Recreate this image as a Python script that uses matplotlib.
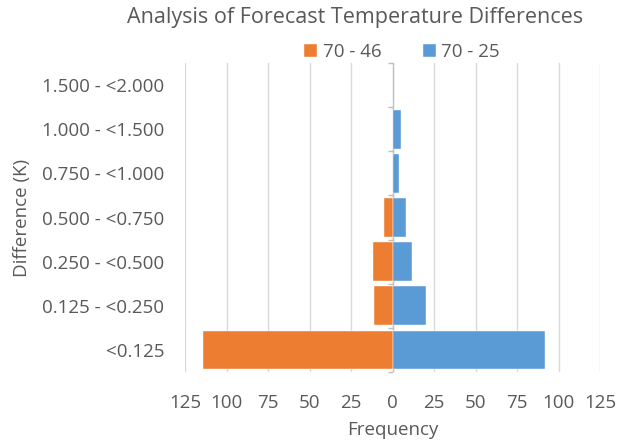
import matplotlib
matplotlib.use("Agg")
import matplotlib.pyplot as plt
import numpy as np

plt.rcParams['font.family'] = ['Open Sans', 'DejaVu Sans']

categories = ["<0.125", "0.125 - <0.250", "0.250 - <0.500", "0.500 - <0.750",
              "0.750 - <1.000", "1.000 - <1.500", "1.500 - <2.000"]
series_70_46 = [114, 11, 12, 5, 0, 0, 0]
series_70_25 = [92, 20, 12, 8, 4, 5, 1]
x_ticks = [-125, -100, -75, -50, -25, 0, 25, 50, 75, 100, 125]
x_tick_labels = ["125", "100", "75", "50", "25", "0", "25", "50", "75", "100", "125"]

ORANGE = "#ED7D31"
BLUE = "#5B9BD5"
TEXT = "#595959"
GRID = "#D9D9D9"

fig = plt.figure(figsize=(6.25, 4.4), dpi=100)
ax = fig.add_axes([185 / 625, 1 - 372 / 440, 415 / 625, 309 / 440])

y = np.arange(len(categories))

# category axis line through zero with boundary tick marks
ax.axvline(0, color="#BFBFBF", linewidth=1, zorder=2)
bounds = np.arange(len(categories) + 1) - 0.5
ax.hlines(bounds, -3, 0, color="#BFBFBF", linewidth=1, zorder=2, clip_on=False)

ax.barh(y, -np.array(series_70_46), height=0.88, color=ORANGE,
        edgecolor="white", linewidth=0.3, label="70 - 46", zorder=3)
ax.barh(y, series_70_25, height=0.88, color=BLUE,
        edgecolor="white", linewidth=0.3, label="70 - 25", zorder=3)

ax.set_xlim(-125, 125)
ax.set_ylim(-0.5, len(categories) - 0.5)
ax.set_xticks(x_ticks)
ax.set_xticklabels(x_tick_labels)
ax.set_yticks(y)
ax.set_yticklabels(categories)
ax.tick_params(axis="both", length=0, colors=TEXT, labelsize=13.5)
ax.tick_params(axis="x", pad=16)
ax.tick_params(axis="y", pad=15)
for s in ax.spines.values():
    s.set_visible(False)
ax.grid(axis="x", color=GRID, linewidth=1, zorder=0)
ax.set_axisbelow(True)

ax.set_xlabel("Frequency", color=TEXT, fontsize=13.5, labelpad=6)
ax.set_ylabel("Difference (K)", color=TEXT, fontsize=13.5, labelpad=8)

fig.text(355 / 625, 1 - 17 / 440, "Analysis of Forecast Temperature Differences",
         ha="center", va="center", fontsize=15.5, color=TEXT)
fig.legend(loc="center", bbox_to_anchor=(402 / 625, 1 - 52 / 440), ncol=2,
           frameon=False, fontsize=13.5, labelcolor=TEXT, handlelength=0.7,
           handleheight=0.7, handletextpad=0.3, columnspacing=2.2)

fig.savefig("out.png", dpi=100)
